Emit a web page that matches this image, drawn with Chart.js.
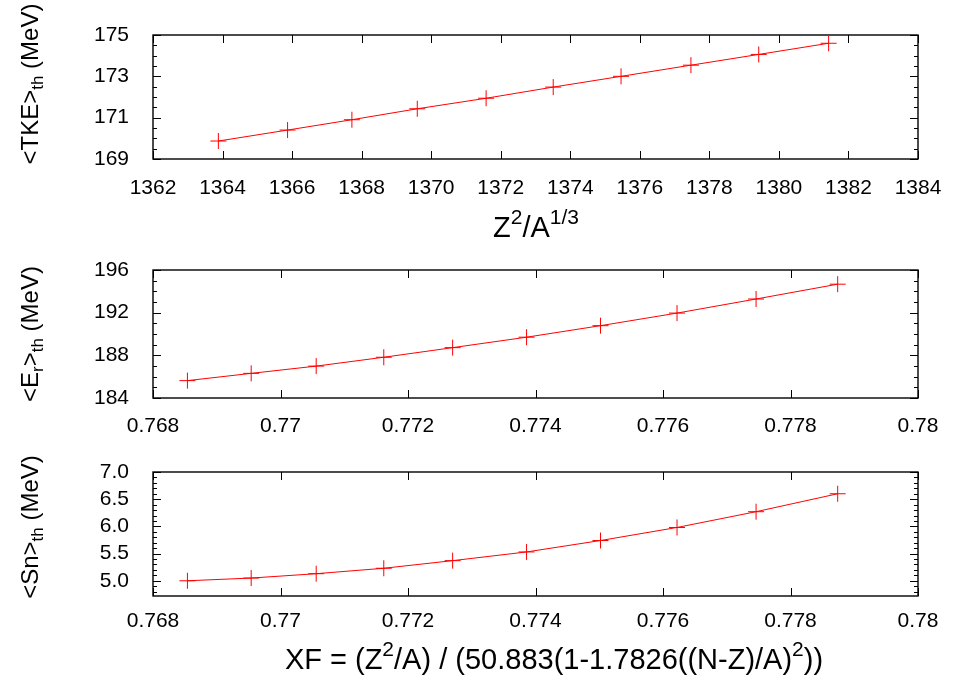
<!DOCTYPE html>
<html>
<head>
<meta charset="utf-8">
<script src="https://cdn.jsdelivr.net/npm/chart.js@4"></script>
<style>
  body { margin: 0; background: #fff; }
  #wrap { position: relative; width: 965px; height: 682px; }
  canvas { position: absolute; left: 0; }
</style>
</head>
<body>
<div id="wrap">
  <canvas id="c1" width="965" height="250" style="top:0px"></canvas>
  <canvas id="c2" width="965" height="200" style="top:250px"></canvas>
  <canvas id="c3" width="965" height="232" style="top:450px"></canvas>
</div>
<script>
// values
const z2a13 = [1363.88, 1365.87, 1367.72, 1369.60, 1371.58, 1373.51, 1375.46, 1377.47, 1379.42, 1381.43];
const tke = [169.87, 170.40, 170.90, 171.43, 171.94, 172.48, 173.00, 173.54, 174.06, 174.60];
const xf = [0.76854, 0.76954, 0.77056, 0.77162, 0.77270, 0.77386, 0.77502, 0.77622, 0.77746, 0.77874];
const er = [185.63, 186.31, 186.99, 187.82, 188.72, 189.70, 190.78, 191.96, 193.28, 194.67];
const sn = [5.00, 5.05, 5.13, 5.23, 5.37, 5.53, 5.74, 5.98, 6.27, 6.60];

// tick values and labels
const z2a13Ticks = [1362, 1364, 1366, 1368, 1370, 1372, 1374, 1376, 1378, 1380, 1382, 1384];
const z2a13Labels = ["1362", "1364", "1366", "1368", "1370", "1372", "1374", "1376", "1378", "1380", "1382", "1384"];
const xfTicks = [0.768, 0.770, 0.772, 0.774, 0.776, 0.778, 0.780];
const xfLabels = ["0.768", "0.77", "0.772", "0.774", "0.776", "0.778", "0.78"];
const tkeTicks = [169, 171, 173, 175];
const tkeLabels = ["169", "171", "173", "175"];
const erTicks = [184, 188, 192, 196];
const erLabels = ["184", "188", "192", "196"];
const snTicks = [5.0, 5.5, 6.0, 6.5, 7.0];
const snLabels = ["5.0", "5.5", "6.0", "6.5", "7.0"];

const FONT = "Liberation Sans, Arial, Helvetica, sans-serif";
Chart.defaults.font.family = FONT;
Chart.defaults.font.size = 21;
Chart.defaults.color = "#000";

function toPoints(xs, ys) {
  return xs.map((x, i) => ({ x: x, y: ys[i] }));
}

// draw text with sub/superscripts, centred on (cx, cy)
function drawRich(ctx, parts, cx, cy, rotate, size) {
  const small = Math.round(size * 0.72);
  ctx.save();
  ctx.translate(cx, cy);
  if (rotate) ctx.rotate(-Math.PI / 2);
  ctx.textBaseline = "middle";
  ctx.textAlign = "left";
  ctx.fillStyle = "#000";
  let total = 0;
  parts.forEach(p => {
    ctx.font = (p[1] ? small : size) + "px " + FONT;
    total += ctx.measureText(p[0]).width;
  });
  let x = -total / 2;
  parts.forEach(p => {
    ctx.font = (p[1] ? small : size) + "px " + FONT;
    let dy = 0;
    if (p[1] === "sub") dy = size * 0.32;
    if (p[1] === "sup") dy = -size * 0.38;
    ctx.fillText(p[0], x, dy);
    x += ctx.measureText(p[0]).width;
  });
  ctx.restore();
}

function framePlugin(opt) {
  return {
    id: "frame",
    beforeDatasetsDraw(chart) {
      const ctx = chart.ctx;
      const a = chart.chartArea;
      const xs = chart.scales.x;
      const ys = chart.scales.y;
      ctx.save();
      ctx.strokeStyle = "#000";
      ctx.lineWidth = 1.4;
      ctx.strokeRect(a.left, a.top, a.right - a.left, a.bottom - a.top);
      ctx.lineWidth = 1;
      ctx.beginPath();
      opt.xTicks.forEach(v => {
        const px = Math.round(xs.getPixelForValue(v)) + 0.5;
        ctx.moveTo(px, a.bottom); ctx.lineTo(px, a.bottom - 8);
        ctx.moveTo(px, a.top); ctx.lineTo(px, a.top + 8);
      });
      opt.yTicks.forEach(v => {
        const py = Math.round(ys.getPixelForValue(v)) + 0.5;
        ctx.moveTo(a.left, py); ctx.lineTo(a.left + 8, py);
        ctx.moveTo(a.right, py); ctx.lineTo(a.right - 8, py);
      });
      // minor ticks
      const step = opt.yMinor;
      for (let k = Math.ceil(ys.min / step - 1e-6); k * step <= ys.max + 1e-9; k++) {
        const py = Math.round(ys.getPixelForValue(k * step)) + 0.5;
        ctx.moveTo(a.left, py); ctx.lineTo(a.left + 4, py);
        ctx.moveTo(a.right, py); ctx.lineTo(a.right - 4, py);
      }
      ctx.stroke();
      ctx.restore();
    },
    afterDraw(chart) {
      const ctx = chart.ctx;
      drawRich(ctx, opt.yTitle, 31, opt.yTitleY, true, 24);
      if (opt.xTitle) drawRich(ctx, opt.xTitle, opt.xTitleX, opt.xTitleY, false, 29);
    }
  };
}

function makePanel(id, opt) {
  const ctx = document.getElementById(id).getContext("2d");
  return new Chart(ctx, {
    type: "line",
    data: {
      datasets: [
        {
          data: toPoints(opt.xs, opt.ys),
          borderColor: "#ff0000",
          borderWidth: 1,
          pointStyle: "cross",
          pointRadius: 8,
          pointBorderWidth: 1,
          pointBorderColor: "#ff0000",
          tension: 0,
          fill: false,
        },
      ],
    },
    options: {
      responsive: false,
      devicePixelRatio: 1,
      animation: false,
      layout: { padding: { left: 0, right: 47, top: opt.top, bottom: opt.bottom } },
      plugins: { legend: { display: false }, tooltip: { enabled: false } },
      scales: {
        x: {
          type: "linear",
          min: opt.xMin,
          max: opt.xMax,
          grid: { display: false },
          border: { display: false },
          ticks: {
            padding: opt.xPad,
            autoSkip: false,
            maxRotation: 0,
            callback: (v, i) => opt.xLabels[i],
          },
          afterBuildTicks: s => { s.ticks = opt.xTicks.map(v => ({ value: v })); },
          afterFit: s => { s.height = 40; s.paddingLeft = 0; s.paddingRight = 0; },
        },
        y: {
          type: "linear",
          min: opt.yMin,
          max: opt.yMax,
          grid: { display: false },
          border: { display: false },
          ticks: {
            padding: 16,
            callback: (v, i) => opt.yLabels[i],
          },
          afterBuildTicks: s => { s.ticks = opt.yTicks.map(v => ({ value: v })); },
          afterFit: s => { s.width = 153; s.paddingTop = 0; s.paddingBottom = 0; },
        },
      },
    },
    plugins: [framePlugin(opt)],
  });
}

makePanel("c1", {
  xs: z2a13, ys: tke,
  xMin: 1362, xMax: 1384, xTicks: z2a13Ticks, xLabels: z2a13Labels, xPad: 9,
  yMin: 169, yMax: 175, yTicks: tkeTicks, yLabels: tkeLabels, yMinor: 0.5,
  top: 35, bottom: 250 - 159 - 40,
  yTitle: [["<TKE>"], ["th", "sub"], [" (MeV)"]], yTitleY: 84,
  xTitle: [["Z"], ["2", "sup"], ["/A"], ["1/3", "sup"]], xTitleX: 536, xTitleY: 229,
});

makePanel("c2", {
  xs: xf, ys: er,
  xMin: 0.768, xMax: 0.78, xTicks: xfTicks, xLabels: xfLabels, xPad: 8,
  yMin: 184, yMax: 196, yTicks: erTicks, yLabels: erLabels, yMinor: 1,
  top: 20, bottom: 200 - 148 - 40,
  yTitle: [["<E"], ["r", "sub"], [">"], ["th", "sub"], [" (MeV)"]], yTitleY: 84,
});

makePanel("c3", {
  xs: xf, ys: sn,
  xMin: 0.768, xMax: 0.78, xTicks: xfTicks, xLabels: xfLabels, xPad: 5,
  yMin: 4.72, yMax: 7.0, yTicks: snTicks, yLabels: snLabels, yMinor: 0.1,
  top: 22, bottom: 232 - 146 - 40,
  yTitle: [["<Sn>"], ["th", "sub"], [" (MeV)"]], yTitleY: 77,
  xTitle: [["XF = (Z"], ["2", "sup"], ["/A) / (50.883(1-1.7826((N-Z)/A)"], ["2", "sup"], ["))"]],
  xTitleX: 554, xTitleY: 211,
});
</script>
</body>
</html>
